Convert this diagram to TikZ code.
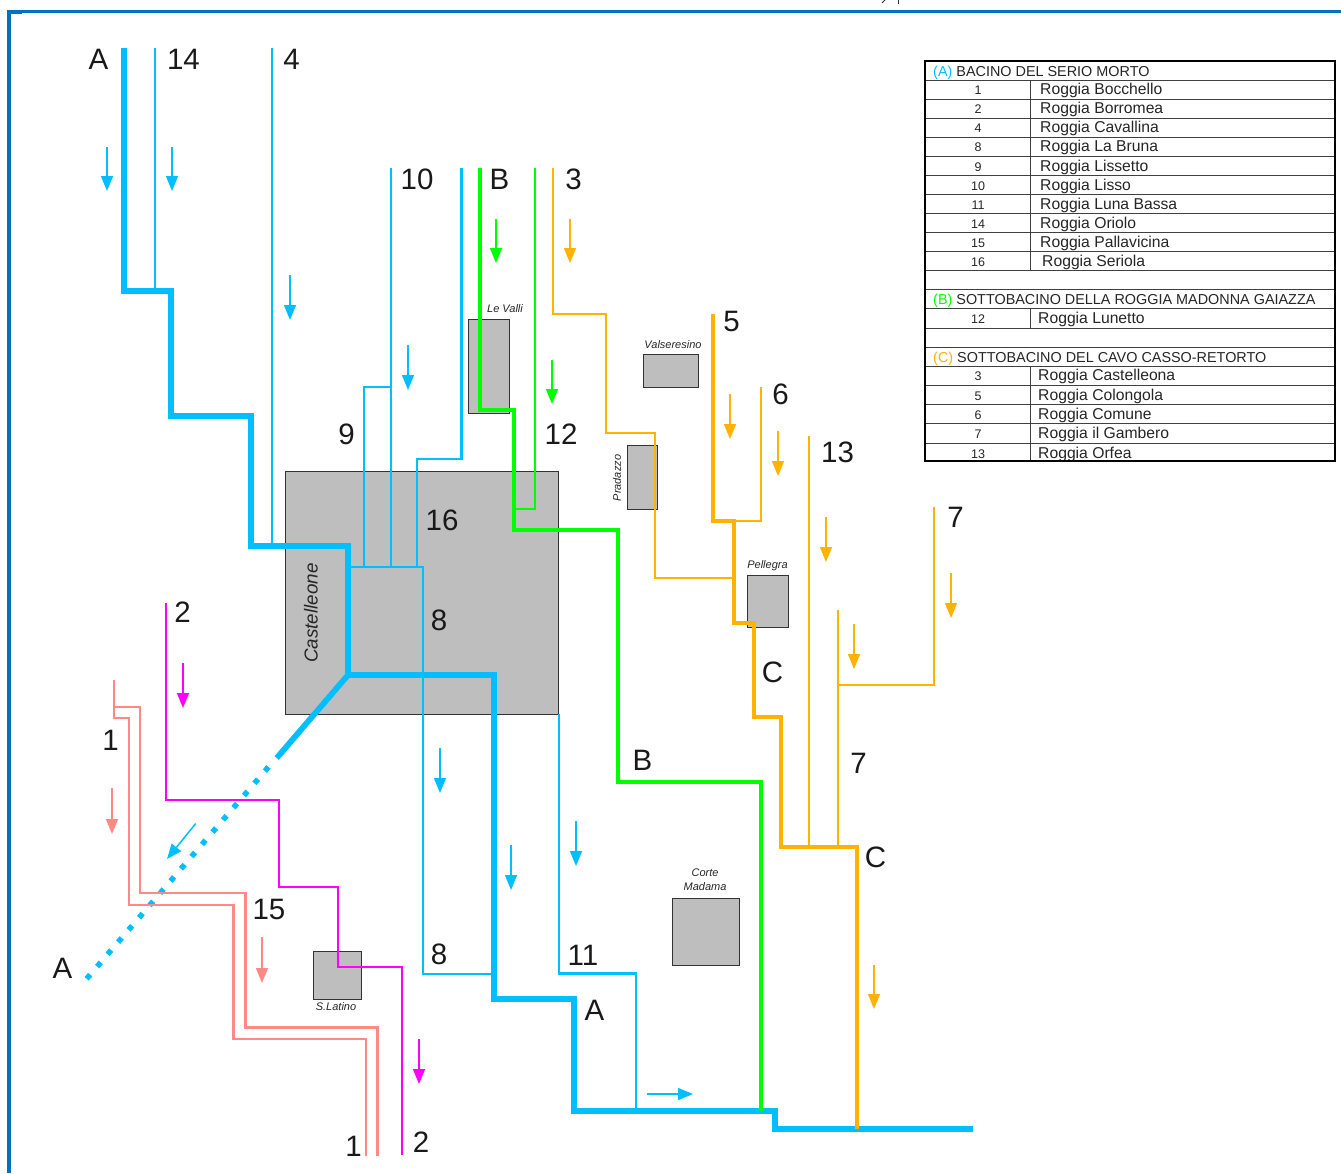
\documentclass[tikz,border=0pt]{standalone}
\usepackage{fontspec}
\setmainfont{Liberation Sans}
\usetikzlibrary{arrows.meta}
\definecolor{cblue}{HTML}{00BFFF}
\definecolor{cgreen}{HTML}{00FF00}
\definecolor{corange}{HTML}{FFB300}
\definecolor{cpink}{HTML}{FF8A85}
\definecolor{cmag}{HTML}{FF00FF}
\definecolor{cgrey}{HTML}{BEBEBE}
\definecolor{cframe}{HTML}{0070C0}
\tikzset{
  x=1pt,y=-1pt,
  town/.style={draw=black!80,line width=1pt,fill=cgrey},
  main/.style={line width=5.8pt,line join=miter,miter limit=10},
  thickline/.style={line width=4.6pt,line join=miter},
  thinline/.style={line width=2.6pt,line join=miter},
  flow/.style={line width=1.5pt,-{Triangle[length=15pt,width=12pt]}},
  lab/.style={font=\fontsize{29.5}{30}\selectfont,text=black!90,inner sep=0pt},
  tname/.style={font=\fontsize{11}{12}\selectfont\itshape,text=black!85,inner sep=0pt,align=center},
  trule/.style={line width=0.9pt,draw=black!75},
  num/.style={font=\fontsize{12.5}{13}\selectfont,text=black!85,inner sep=0pt},
  rname/.style={font=\fontsize{15.7}{16}\selectfont,text=black!85,inner sep=0pt,anchor=west},
  head/.style={font=\fontsize{14.4}{16}\selectfont,text=black!85,inner sep=0pt,anchor=west},
}
\begin{document}
\begin{tikzpicture}
\useasboundingbox (0,0) rectangle (1341,1173);
% page frame
\fill[cframe] (7,10) rectangle (1341,13);
\fill[cframe] (6.5,10) rectangle (10.5,1173);
\fill[cframe] (7,13) rectangle (22,14);
% cut-off marks at top
\draw[line width=1pt,black!80] (885,0) -- (882,3);
\draw[line width=1pt,black!80] (898,0) -- (898,4);
% towns
\node[town,minimum width=273pt,minimum height=243pt,inner sep=0pt] (castelleone) at (422,592.5) {};
\node[town,minimum width=41pt,minimum height=94pt,inner sep=0pt] (levalli) at (488.5,366) {};
\node[town,minimum width=55pt,minimum height=33pt,inner sep=0pt] (valseresino) at (670.5,370.5) {};
\node[town,minimum width=30pt,minimum height=64pt,inner sep=0pt] (pradazzo) at (642,477) {};
\node[town,minimum width=41pt,minimum height=52pt,inner sep=0pt] (pellegra) at (767.5,601) {};
\node[town,minimum width=67pt,minimum height=67pt,inner sep=0pt] (cortemadama) at (705.5,931.5) {};
\node[town,minimum width=48pt,minimum height=48pt,inner sep=0pt] (slatino) at (337,975) {};
% thin blue
\draw[cblue,thinline] (155,48) -- (155,291);
\draw[cblue,thinline] (272,48) -- (272,546);
\draw[cblue,thinline] (391,168) -- (391,567);
\draw[cblue,thinline] (391,387) -- (364,387) -- (364,567);
\draw[cblue,thinline] (461.5,168) -- (461.5,459) -- (417,459) -- (417,567);
\draw[cblue,thinline] (348,567) -- (423,567) -- (423,974) -- (494,974);
\draw[cblue,thinline] (559,714) -- (559,973.5) -- (636,973.5) -- (636,1111);
% main blue
\draw[cblue,main] (124,48) -- (124,291) -- (171,291) -- (171,416) -- (251,416) -- (251,546) -- (348,546) -- (348,675) -- (494,675) -- (494,999) -- (574,999) -- (574,1111) -- (775,1111) -- (775,1129) -- (973,1129);
\draw[cblue,main,line cap=butt] (348,675) -- (276.7,758);
\draw[cblue,line width=5.5pt,dash pattern=on 5.5pt off 10.6pt] (268.5,766.9) -- (86,979.5);
% green
\draw[cgreen,thinline] (535,168) -- (535,509) -- (514,509);
\draw[cgreen,thickline] (480,168) -- (480,410) -- (514,410) -- (514,530) -- (618,530) -- (618,782) -- (761,782) -- (761,1111);
% orange
\draw[corange,thinline] (553,168) -- (553,314) -- (606,314) -- (606,433) -- (655,433) -- (655,578) -- (734,578);
\draw[corange,thinline] (761,387) -- (761,521) -- (734,521);
\draw[corange,thinline] (809,436) -- (809,847);
\draw[corange,thinline] (838,610) -- (838,847);
\draw[corange,thinline] (934,507) -- (934,685) -- (838,685);
\draw[corange,thickline] (713,314) -- (713,521) -- (734,521) -- (734,623) -- (754,623) -- (754,717) -- (781,717) -- (781,847) -- (857,847) -- (857,1129);
% pink and magenta
\draw[cpink,thinline] (114,680) -- (114,718) -- (129,718) -- (129,905) -- (233.5,905) -- (233.5,1039) -- (366,1039) -- (366,1156);
\draw[cpink,thinline] (114,707) -- (140,707) -- (140,893) -- (245.5,893) -- (245.5,1027.5) -- (377.5,1027.5) -- (377.5,1156);
\draw[cmag,thinline] (166,603) -- (166,800) -- (279,800) -- (279,887) -- (338,887) -- (338,967) -- (402,967) -- (402,1155);
% flow arrows
\draw[cblue,flow] (107,147) -- (107,191);
\draw[cblue,flow] (172,147) -- (172,191);
\draw[cblue,flow] (290,275) -- (290,320);
\draw[cblue,flow] (408,345) -- (408,390);
\draw[cblue,flow] (440,748) -- (440,793);
\draw[cblue,flow] (511,845) -- (511,890);
\draw[cblue,flow] (576,821) -- (576,866);
\draw[cblue,flow] (647,1094) -- (693,1094);
\draw[cblue,flow] (195.7,823.5) -- (167,859);
\draw[cgreen,flow] (496,219) -- (496,263);
\draw[cgreen,flow] (552,360) -- (552,404);
\draw[corange,flow] (570,219) -- (570,263);
\draw[corange,flow] (730,394) -- (730,439);
\draw[corange,flow] (778,431) -- (778,476);
\draw[corange,flow] (826,517) -- (826,562);
\draw[corange,flow] (854,624) -- (854,669);
\draw[corange,flow] (951,573) -- (951,618);
\draw[corange,flow] (874,965) -- (874,1009);
\draw[cmag,flow] (183,663) -- (183,708);
\draw[cmag,flow] (419,1039) -- (419,1084);
\draw[cpink,flow] (112,788) -- (112,834);
\draw[cpink,flow] (262,937) -- (262,983);
% big labels
\node[lab] (la1) at (98.5,59.5) {A};
\node[lab] (l14) at (183.5,59.5) {14};
\node[lab] (l4) at (291.5,59.5) {4};
\node[lab] (l10) at (417,179.5) {10};
\node[lab] (lb1) at (499.5,179.5) {B};
\node[lab] (l3) at (573.5,179.5) {3};
\node[lab] (l5) at (731.5,321.5) {5};
\node[lab] (l6) at (780.5,394.5) {6};
\node[lab] (l9) at (346.5,434.5) {9};
\node[lab] (l12) at (561,434.5) {12};
\node[lab] (l13) at (837.5,452.5) {13};
\node[lab] (l16) at (442,520.5) {16};
\node[lab] (l7a) at (955.5,517.5) {7};
\node[lab] (l8a) at (439,620.5) {8};
\node[lab] (lc1) at (772.5,672.5) {C};
\node[lab] (l2a) at (182.5,612.5) {2};
\node[lab] (l1a) at (110.5,740.5) {1};
\node[lab] (lb2) at (642.5,760.5) {B};
\node[lab] (l7b) at (858.5,763.5) {7};
\node[lab] (lc2) at (875.5,857.5) {C};
\node[lab] (l15) at (269,909.5) {15};
\node[lab] (la2) at (62.5,968.5) {A};
\node[lab] (l8b) at (439,954.5) {8};
\node[lab] (l11) at (583,955.5) {11};
\node[lab] (la3) at (594.5,1010.5) {A};
\node[lab] (l1b) at (353.5,1146.5) {1};
\node[lab] (l2b) at (421,1142.5) {2};
% town names
\node[tname] (nlevalli) at (505,309) {Le Valli};
\node[tname] (nvals) at (673,345) {Valseresino};
\node[tname,rotate=90] (npra) at (617,478) {Pradazzo};
\node[tname] (npel) at (767.5,565.5) {Pellegra};
\node[tname,font=\fontsize{11}{13.5}\selectfont\itshape] (ncor) at (705,879.5) {Corte\\Madama};
\node[tname] (nsla) at (336,1007) {S.Latino};
\node[tname,rotate=90,font=\fontsize{18.8}{19}\selectfont\itshape] (ncas) at (311,613) {Castelleone};
% legend table
\fill[white] (925,61) rectangle (1335,460);
\foreach \yy in {80,99.3,118.3,137.3,156.7,175.3,194.3,213.3,232.3,251.3,270.3,289.3,308.7,328,347,366,385.3,404.7,423.7,443}
  \draw[trule] (925,\yy) -- (1335,\yy);
\draw[trule] (1030,80) -- (1030,270.3);
\draw[trule] (1030,308.7) -- (1030,328);
\draw[trule] (1030,366) -- (1030,460);
\begin{scope}
\clip (925,61) rectangle (1335,460);
\node[head] (h1) at (933,72.5) {\textcolor{cblue}{(A)} BACINO DEL SERIO MORTO};
\node[head] (h2) at (933,300.5) {\textcolor{cgreen}{(B)} SOTTOBACINO DELLA ROGGIA MADONNA GAIAZZA};
\node[head] (h3) at (933,358.5) {\textcolor{corange}{(C)} SOTTOBACINO DEL CAVO CASSO-RETORTO};
\foreach \yy/\nn/\tx/\xx in {
  90.5/1/Roggia Bocchello/1040,
  109.5/2/Roggia Borromea/1040,
  128.5/4/Roggia Cavallina/1040,
  147.5/8/Roggia La Bruna/1040,
  167/9/Roggia Lissetto/1040,
  186/10/Roggia Lisso/1040,
  205/11/Roggia Luna Bassa/1040,
  224/14/Roggia Oriolo/1040,
  243/15/Roggia Pallavicina/1040,
  262/16/Roggia Seriola/1042,
  319/12/Roggia Lunetto/1038,
  376.5/3/Roggia Castelleona/1038,
  396/5/Roggia Colongola/1038,
  415.5/6/Roggia Comune/1038,
  434/7/Roggia il Gambero/1038,
  454.5/13/Roggia Orfea/1038}{
  \node[num] (num\nn) at (978,\yy) {\nn};
  \node[rname] (row\nn) at (\xx,\yy) {\tx};
}
\end{scope}
\draw[black,line width=2pt] (925,61) rectangle (1335,460.5);
\end{tikzpicture}
\end{document}
